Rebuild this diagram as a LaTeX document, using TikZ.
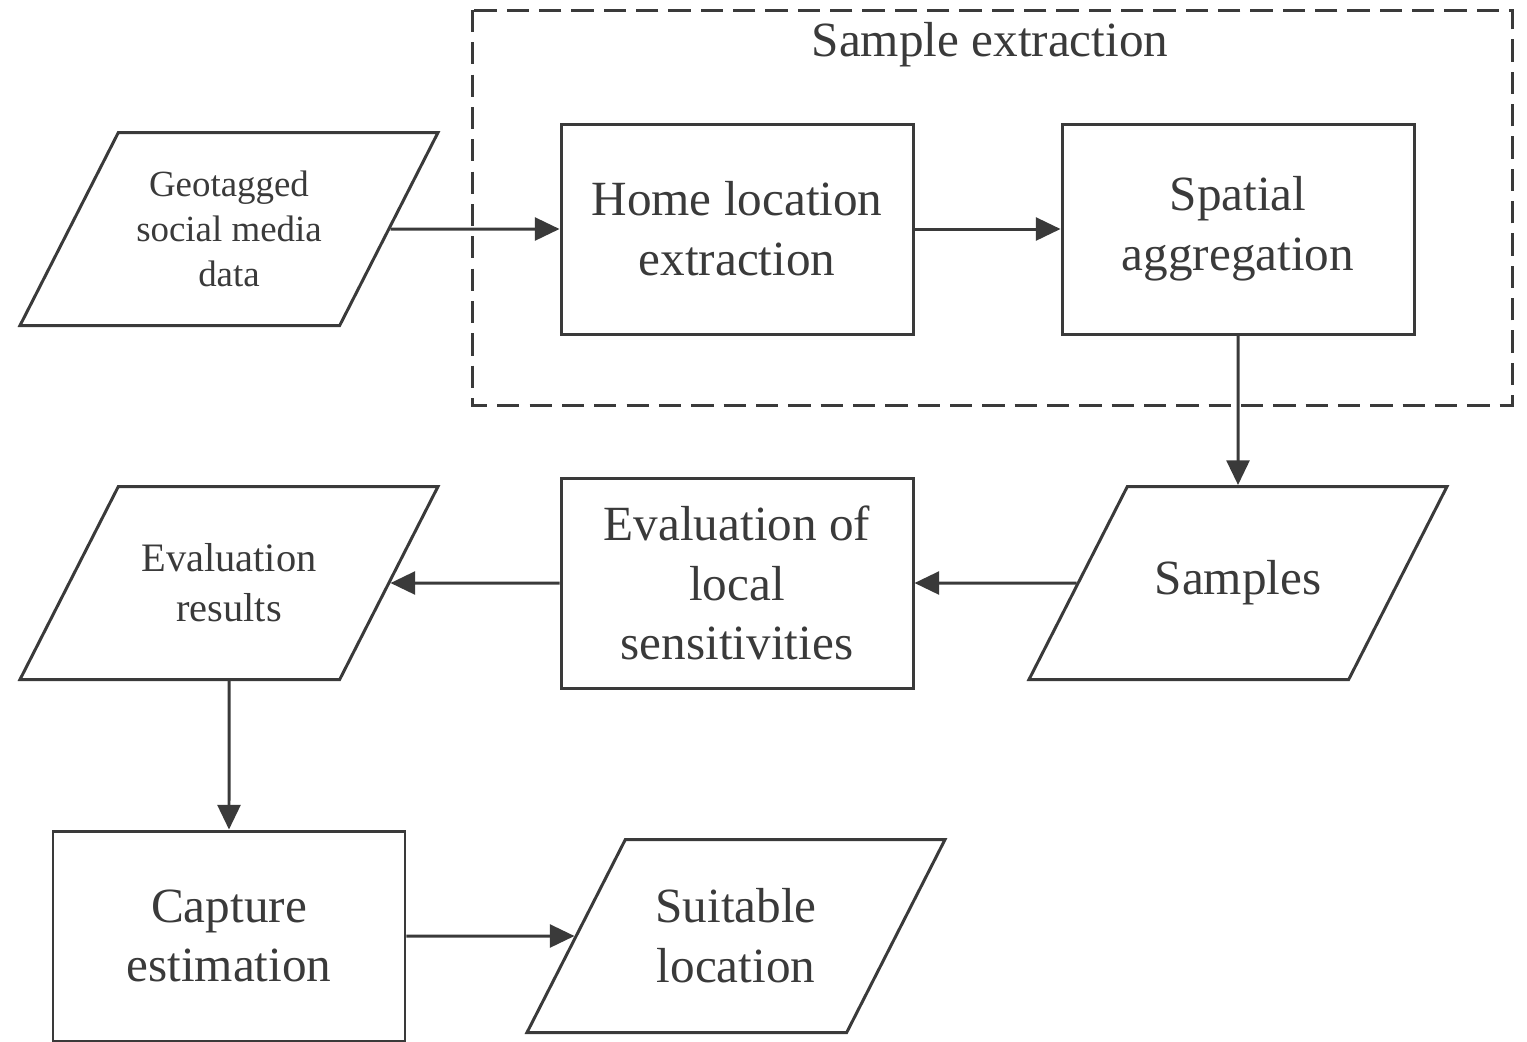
\documentclass[tikz,border=0pt]{standalone}
\usepackage{fontspec}
\setmainfont{Liberation Serif}
\usetikzlibrary{shapes.geometric,arrows.meta}
\definecolor{ink}{HTML}{3A3A3A}

\begin{document}
\begin{tikzpicture}[
    every node/.style={text=ink},
    procbox/.style={draw=ink, line width=0.85pt, minimum width=3.52cm, minimum height=2.1cm, inner sep=0pt, align=center, font=\fontsize{14}{17}\selectfont},
    databox/.style={trapezium, trapezium left angle=63, trapezium right angle=117, trapezium stretches body, draw=ink, line width=0.85pt, minimum width=4.18cm, inner sep=0pt,
        execute at begin node={\begin{minipage}[c][1.93cm][c]{2.2cm}\centering}, execute at end node={\end{minipage}}},
    flow/.style={draw=ink, line width=0.85pt, -{Triangle[length=7pt,width=6.5pt]}}]
    \useasboundingbox (0,0) rectangle (15.27,-10.41);
    \draw[draw=ink, line width=0.85pt, dash pattern=on 6.3pt off 2.9pt] (4.72,-0.10) rectangle (15.12,-4.05);
    \node (title) at (9.90,-0.45) {\fontsize{14}{17}\selectfont Sample extraction};
    \node[databox, font=\fontsize{10.5}{12.8}\selectfont] (geo) at (2.29,-2.29) {Geotagged\\social media\\data};
    \node[procbox] (home) at (7.37,-2.29) {Home location\\extraction};
    \node[procbox] (spatial) at (12.38,-2.29) {Spatial\\aggregation};
    \node[databox, font=\fontsize{14}{17}\selectfont] (samples) at (12.38,-5.83) {Samples};
    \node[procbox] (eval) at (7.37,-5.83) {Evaluation of\\local\\sensitivities};
    \node[databox, font=\fontsize{11.5}{14.2}\selectfont] (results) at (2.29,-5.83) {Evaluation\\results};
    \node[procbox] (capture) at (2.29,-9.36) {Capture\\estimation};
    \node[databox, font=\fontsize{14}{17}\selectfont] (suitable) at (7.36,-9.36) {Suitable\\location};
    \draw[flow] (geo) -- (home);
    \draw[flow] (home) -- (spatial);
    \draw[flow] (spatial) -- (samples);
    \draw[flow] (samples) -- (eval);
    \draw[flow] (eval) -- (results);
    \draw[flow] (results) -- (capture);
    \draw[flow] (capture) -- (suitable);
\end{tikzpicture}
\end{document}
